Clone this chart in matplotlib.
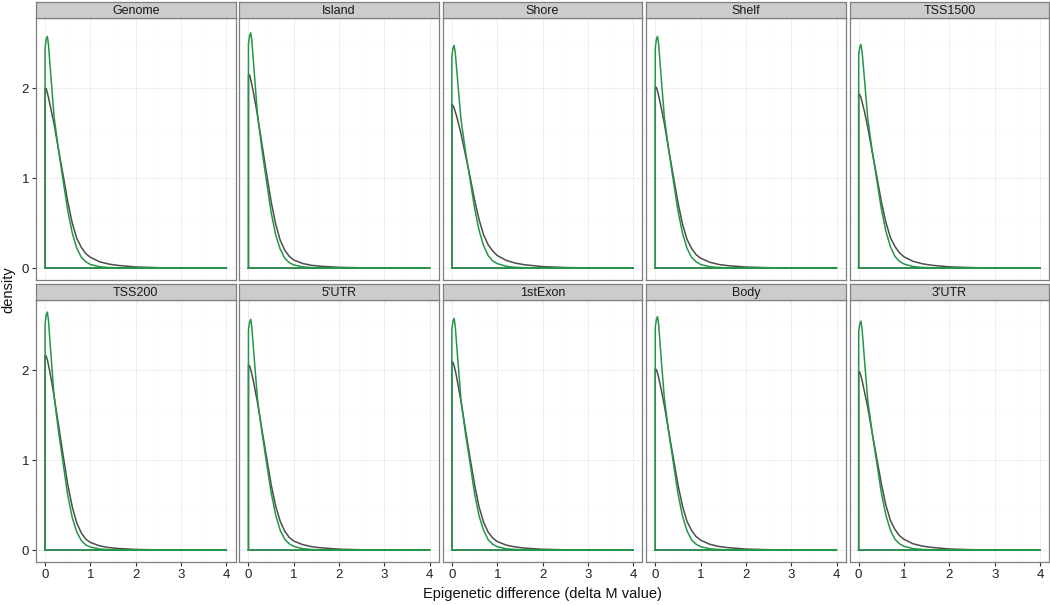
import matplotlib
matplotlib.use("Agg")
import matplotlib.pyplot as plt

plt.rcParams['font.family'] = ['Liberation Sans', 'DejaVu Sans']

panels = ["Genome", "Island", "Shore", "Shelf", "TSS1500",
          "TSS200", "5'UTR", "1stExon", "Body", "3'UTR"]

x_vals = [0, 0.025, 0.05, 0.075, 0.1, 0.125, 0.15, 0.2, 0.3, 0.4, 0.5, 0.6,
          0.7, 0.8, 0.9, 1.0, 1.2, 1.4, 1.6, 2.0, 2.5, 3.0, 4.0]

gray_genome = [2.00, 2.00, 1.95, 1.90, 1.84, 1.78, 1.72, 1.60, 1.31, 1.03, 0.74, 0.50, 0.33, 0.23, 0.16, 0.12, 0.07, 0.045, 0.03, 0.012, 0.004, 0.001, 0.0]
gray_island = [2.15, 2.15, 2.10, 2.04, 1.98, 1.91, 1.84, 1.70, 1.37, 1.05, 0.74, 0.49, 0.31, 0.20, 0.13, 0.09, 0.05, 0.03, 0.02, 0.008, 0.003, 0.001, 0.0]
gray_shore = [1.82, 1.81, 1.78, 1.74, 1.70, 1.65, 1.60, 1.50, 1.26, 1.02, 0.76, 0.54, 0.37, 0.26, 0.19, 0.14, 0.085, 0.055, 0.037, 0.016, 0.006, 0.002, 0.0]
gray_shelf = [2.02, 2.01, 1.97, 1.92, 1.86, 1.80, 1.74, 1.61, 1.31, 1.02, 0.73, 0.49, 0.32, 0.22, 0.15, 0.11, 0.065, 0.04, 0.027, 0.011, 0.004, 0.001, 0.0]
gray_tss1500 = [1.94, 1.93, 1.90, 1.85, 1.80, 1.75, 1.69, 1.57, 1.29, 1.02, 0.74, 0.51, 0.34, 0.24, 0.17, 0.125, 0.075, 0.048, 0.032, 0.013, 0.005, 0.001, 0.0]
gray_tss200 = [2.17, 2.16, 2.12, 2.06, 2.00, 1.93, 1.86, 1.71, 1.38, 1.05, 0.73, 0.48, 0.30, 0.19, 0.12, 0.085, 0.047, 0.028, 0.018, 0.007, 0.002, 0.001, 0.0]
gray_utr5 = [2.06, 2.05, 2.01, 1.96, 1.90, 1.84, 1.77, 1.64, 1.33, 1.03, 0.73, 0.49, 0.32, 0.21, 0.14, 0.10, 0.06, 0.037, 0.025, 0.01, 0.003, 0.001, 0.0]
gray_exon1 = [2.10, 2.09, 2.05, 2.00, 1.94, 1.87, 1.80, 1.66, 1.34, 1.03, 0.73, 0.48, 0.31, 0.20, 0.135, 0.095, 0.055, 0.034, 0.022, 0.009, 0.003, 0.001, 0.0]
gray_body = [2.02, 2.01, 1.97, 1.92, 1.86, 1.80, 1.74, 1.61, 1.31, 1.02, 0.73, 0.49, 0.32, 0.22, 0.15, 0.11, 0.065, 0.04, 0.027, 0.011, 0.004, 0.001, 0.0]
gray_utr3 = [1.99, 1.98, 1.94, 1.89, 1.83, 1.77, 1.71, 1.59, 1.30, 1.02, 0.74, 0.50, 0.33, 0.23, 0.16, 0.12, 0.07, 0.045, 0.03, 0.012, 0.004, 0.001, 0.0]

green_genome = [2.45, 2.55, 2.58, 2.49, 2.32, 2.16, 2.00, 1.68, 1.30, 0.97, 0.64, 0.39, 0.22, 0.12, 0.07, 0.04, 0.015, 0.006, 0.003, 0.001, 0.0, 0.0, 0.0]
green_island = [2.50, 2.59, 2.62, 2.53, 2.36, 2.20, 2.03, 1.70, 1.31, 0.96, 0.62, 0.37, 0.21, 0.11, 0.06, 0.035, 0.013, 0.005, 0.002, 0.001, 0.0, 0.0, 0.0]
green_shore = [2.36, 2.45, 2.48, 2.40, 2.25, 2.10, 1.95, 1.66, 1.30, 0.99, 0.67, 0.42, 0.25, 0.14, 0.08, 0.05, 0.019, 0.008, 0.004, 0.001, 0.0, 0.0, 0.0]
green_shelf = [2.45, 2.55, 2.58, 2.49, 2.32, 2.16, 2.00, 1.68, 1.30, 0.97, 0.64, 0.39, 0.22, 0.12, 0.07, 0.04, 0.015, 0.006, 0.003, 0.001, 0.0, 0.0, 0.0]
green_tss1500 = [2.38, 2.46, 2.49, 2.41, 2.27, 2.12, 1.97, 1.67, 1.30, 0.98, 0.66, 0.41, 0.24, 0.13, 0.075, 0.045, 0.017, 0.007, 0.003, 0.001, 0.0, 0.0, 0.0]
green_tss200 = [2.52, 2.62, 2.65, 2.56, 2.38, 2.21, 2.04, 1.71, 1.31, 0.96, 0.61, 0.36, 0.20, 0.105, 0.057, 0.033, 0.012, 0.005, 0.002, 0.001, 0.0, 0.0, 0.0]
green_utr5 = [2.45, 2.54, 2.57, 2.48, 2.31, 2.15, 1.99, 1.68, 1.30, 0.97, 0.64, 0.39, 0.22, 0.12, 0.07, 0.04, 0.015, 0.006, 0.003, 0.001, 0.0, 0.0, 0.0]
green_exon1 = [2.46, 2.55, 2.58, 2.49, 2.32, 2.16, 2.00, 1.68, 1.30, 0.97, 0.63, 0.38, 0.22, 0.115, 0.065, 0.038, 0.014, 0.006, 0.003, 0.001, 0.0, 0.0, 0.0]
green_body = [2.48, 2.57, 2.60, 2.51, 2.34, 2.17, 2.01, 1.69, 1.30, 0.97, 0.63, 0.38, 0.215, 0.115, 0.065, 0.038, 0.014, 0.006, 0.003, 0.001, 0.0, 0.0, 0.0]
green_utr3 = [2.43, 2.52, 2.55, 2.46, 2.30, 2.14, 1.98, 1.67, 1.30, 0.97, 0.64, 0.39, 0.22, 0.12, 0.07, 0.042, 0.016, 0.007, 0.003, 0.001, 0.0, 0.0, 0.0]

gray_series = [gray_genome, gray_island, gray_shore, gray_shelf, gray_tss1500,
               gray_tss200, gray_utr5, gray_exon1, gray_body, gray_utr3]
green_series = [green_genome, green_island, green_shore, green_shelf, green_tss1500,
                green_tss200, green_utr5, green_exon1, green_body, green_utr3]

x_ticks = [0, 1, 2, 3, 4]
y_ticks = [0, 1, 2]

GRAY = "#4D4D4D"
GREEN = "#23964A"

W, H = 1050, 605
fig = plt.figure(figsize=(W / 100, H / 100), dpi=100)

left0 = 36
pw = 199.5
gap = 3.9
row_tops = [18, 300]
ph = 262
strip_h = 16


def fx(px):
    return px / W


def fy(py):
    return 1 - py / H


for i, name in enumerate(panels):
    r, c = divmod(i, 5)
    x0 = left0 + c * (pw + gap)
    top = row_tops[r]
    ax = fig.add_axes([fx(x0), fy(top + ph), pw / W, ph / H])
    ax.set_xlim(-0.2, 4.2)
    ax.set_ylim(-0.133, 2.785)
    ax.set_facecolor("white")
    ax.set_xticks(x_ticks)
    ax.set_yticks(y_ticks)
    ax.set_xticks([0.5, 1.5, 2.5, 3.5], minor=True)
    ax.set_yticks([0.5, 1.5, 2.5], minor=True)
    ax.grid(True, which="major", color="#EBEBEB", lw=0.6, zorder=0)
    ax.grid(True, which="minor", color="#FAFAFA", lw=0.5, zorder=0)
    ax.set_axisbelow(True)
    for s in ax.spines.values():
        s.set_color("#7F7F7F")
        s.set_linewidth(0.9)
    ax.tick_params(which="minor", length=0)
    ax.tick_params(which="major", length=3, width=0.8, color="#333333",
                   labelsize=9.5, labelcolor="#222222", pad=2)
    if c != 0:
        ax.tick_params(axis="y", length=0, labelleft=False)
    if r == 0:
        ax.tick_params(axis="x", length=0, labelbottom=False)

    gy = gray_series[i]
    gn = green_series[i]
    xs = [x_vals[0]] + x_vals + [x_vals[-1], x_vals[0]]
    ax.plot(xs, [0] + gy + [0, 0], color=GRAY, lw=1.1, zorder=3,
            solid_joinstyle="round")
    ax.plot(xs, [0] + gn + [0, 0], color=GREEN, lw=1.1, zorder=4,
            solid_joinstyle="round")

    # strip
    sax = fig.add_axes([fx(x0), fy(top), pw / W, strip_h / H])
    sax.set_xticks([])
    sax.set_yticks([])
    sax.set_facecolor("#CCCCCC")
    for s in sax.spines.values():
        s.set_color("#7F7F7F")
        s.set_linewidth(0.9)
    sax.text(0.5, 0.45, name, ha="center", va="center", fontsize=9,
             color="#1A1A1A", transform=sax.transAxes)

fig.text(fx(8), fy(290), "density", rotation=90, ha="center", va="center",
         fontsize=10.5, color="#111111")
fig.text(fx(542), fy(594), "Epigenetic difference (delta M value)",
         ha="center", va="center", fontsize=10.5, color="#111111")

fig.savefig("out.png", dpi=100, facecolor="white")
